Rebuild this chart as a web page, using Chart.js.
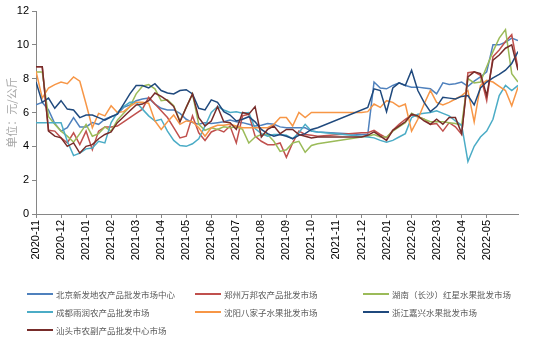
<!DOCTYPE html>
<html>
<head>
<meta charset="utf-8">
<script src="https://cdn.jsdelivr.net/npm/chart.js@4/dist/chart.umd.min.js"></script>
<style>
  body { margin: 0; background: #fff; }
  #wrap { position: relative; width: 537px; height: 344px; }
  #legend { position: absolute; left: 0; top: 0; width: 537px; height: 344px; pointer-events: none;
            font-family: "Noto Sans CJK SC"; font-size: 8.5px; color: #595959; }
  .item { position: absolute; display: flex; align-items: center; white-space: nowrap; height: 12px; }
  .item i { display: inline-block; width: 26px; height: 2px; margin-right: 3px; }
</style>
</head>
<body>
<div id="wrap">
  <canvas id="chart" width="537" height="344"></canvas>
  <div id="legend"></div>
</div>
<script>
// month tick labels (one tick every 4 weekly points)
const monthLabels = ['2020-11', '2020-12', '2021-01', '2021-02', '2021-03', '2021-04', '2021-05',
  '2021-06', '2021-07', '2021-08', '2021-09', '2021-10', '2021-11', '2021-12',
  '2022-01', '2022-02', '2022-03', '2022-04', '2022-05'];

const seriesNames = ['北京新发地农产品批发市场中心', '郑州万邦农产品批发市场', '湖南（长沙）红星水果批发市场',
  '成都雨润农产品批发市场', '沈阳八家子水果批发市场', '浙江嘉兴水果批发市场', '汕头市农副产品批发中心市场'];
const seriesColors = ['#4F81BD', '#C0504D', '#9BBB59', '#4BACC6', '#F79646', '#1F497D', '#772C2A'];

// weekly prices, 元/公斤 (null = no quote that week)
const beijing = [6.45, 6.6, 6.15, 5.35, 4.9, 5.1, 5.7, 5.15, 5.15, 5.4, 5.3, 5.6, 5.75, 5.9, 6.3, 6.45,
  6.7, 6.8, 6.85, 6.5, 6.25, 6.15, 6.15, 5.95, 5.6, 5.4, 5.3, 5.4, 5.35, 5.4, 5.45, 5.55, 5.45, 5.4,
  5.3, 5.2, 5.25, 5.35, 5.3, 5.15, 5.1, 5.1, 5.1, 5.1, 4.9, 4.85, null, null, null, null, null, null,
  4.7, 4.7, 7.8, 7.45, 7.4, 7.6, 7.75, 7.6, 7.5, 7.5, 7.45, 7.4, 7.1, 7.75, 7.65, 7.7, 7.8, 7.55,
  7.85, 8.1, 8.4, 10.0, 10.0, 10.15, 10.4, 10.25];
const zhengzhou = [8.7, 8.7, 4.95, 4.9, 4.5, 4.2, 4.8, 4.1, 4.9, 3.8, 4.9, 5.15, 5.15, 5.2, 5.45, 5.7,
  5.95, 6.2, 6.9, 6.5, 6.1, 5.7, 5.1, 4.5, 4.6, 5.8, 4.8, 4.35, 4.85, 5.0, 4.85, 5.2, 4.2, 5.8, 5.9,
  4.6, 4.3, 4.1, 4.1, 4.2, 3.35, 4.2, 4.9, 4.7, 4.65, 4.6, null, null, null, null, null, null,
  4.8, 4.8, 4.95, 4.7, 4.5, 4.95, 5.3, 5.6, 5.85, 5.75, 5.6, 5.3, 5.35, 4.9, 5.4, 5.15, 4.7, 8.35,
  8.4, 8.2, 6.7, 9.3, 9.7, 10.2, 10.6, 8.6];
const hunan = [8.4, 8.4, 5.75, 5.3, 4.9, 4.6, 4.25, 4.75, 5.3, 4.6, 4.75, 5.15, 4.9, 5.55, 5.95, 6.35,
  7.1, 7.55, 7.65, 7.4, 6.7, 6.75, 6.4, 5.5, 6.3, 7.1, 5.3, 4.95, 5.1, 5.0, 5.15, 5.1, 5.15, 5.0, 4.2,
  4.55, 4.7, 4.7, 4.3, 3.7, 3.8, 4.2, 4.3, 3.65, 4.05, 4.15, null, null, null, null, null, null,
  4.55, 4.6, 4.7, 4.55, 4.55, 4.9, 5.15, 5.4, 5.95, 5.75, 5.6, 5.45, 5.45, 5.45, 5.4, 5.35, 5.25, 8.0,
  7.75, 7.8, 8.7, 9.6, 10.4, 10.9, 8.3, 7.8];
const chengdu = [5.4, 5.4, 5.4, 5.4, 5.4, 4.3, 3.45, 3.6, 3.85, 3.9, 4.3, 4.2, 5.4, 6.0, 6.35, 6.6,
  6.6, 6.2, 5.8, 5.5, 5.6, 4.9, 4.35, 4.05, 4.0, 4.15, 4.45, 5.2, 6.0, 6.35, 6.15, 6.0, 6.05, 5.95, 6.0,
  5.05, 4.75, 4.6, 4.7, 4.7, 4.65, 4.45, 4.8, 5.3, 4.9, 4.85, null, null, null, null, null, null,
  4.6, 4.55, 4.5, 4.35, 4.25, 4.35, 4.55, 4.75, 5.7, 5.9, 5.95, 6.0, 6.1, 5.95, 5.8, 5.5, 5.25, 3.1,
  4.0, 4.55, 4.9, 5.6, 7.0, 7.6, 7.3, 7.6];
const shenyang = [8.45, 6.85, 7.45, 7.65, 7.8, 7.7, 8.1, 7.85, 6.5, 5.1, 5.95, 5.8, 6.4, 6.0, 6.05, 6.35,
  6.6, 6.6, 6.55, 5.5, 5.0, 5.45, 5.85, 5.3, 5.5, 5.45, 5.1, 4.6, 5.1, 5.25, 5.25, 5.3, 5.2, 5.1, 5.1,
  5.1, 5.1, 5.1, 5.3, 5.7, 5.7, 5.2, 6.0, 5.7, 6.0, 6.0, null, null, null, null, null, null,
  6.0, 6.05, 6.5, 6.3, 6.7, 6.6, 6.35, 6.5, 4.9, 5.6, 6.5, 7.3, 6.6, 6.45, 6.6, 6.8, 7.0, 7.3,
  5.45, 7.6, 7.9, 7.8, 7.55, 7.3, 6.4, 7.5];
const zhejiang = [7.8, 6.6, 6.85, 6.25, 6.7, 6.2, 6.15, 5.7, 5.85, 5.85, 5.7, 5.55, 5.75, 5.9, 6.5, 7.1,
  7.6, 7.6, 7.45, 7.7, 7.3, 7.15, 7.1, 7.3, 7.35, 7.1, 6.25, 6.15, 6.75, 6.6, 6.05, 5.85, 5.5, 5.6, 5.75,
  5.45, 5.0, 4.75, 4.6, 4.7, 4.6, 4.45, 4.65, 4.75, 5.0, 5.1, null, null, null, null, null, null,
  null, 6.3, 7.4, 7.3, 6.05, 7.45, 7.75, 7.6, 8.5, 7.3, 6.6, 6.05, 6.35, 6.9, 6.85, 6.8, 6.95, 7.0,
  6.45, 7.45, 7.8, 8.05, 8.25, 8.5, 8.9, 9.6];
const shantou = [8.7, 8.7, 4.9, 4.6, 4.5, 4.0, 4.2, 3.6, 4.0, 4.1, 4.45, 4.7, 4.85, 5.4, 5.75, 6.1,
  6.45, 6.5, 6.7, 7.15, 6.95, 6.7, 6.35, 5.45, 6.3, 7.1, 5.7, 5.2, 5.5, 6.35, 5.45, 5.4, 5.0, 6.0, 5.9,
  6.35, 4.55, 5.0, 5.2, 4.75, 5.0, 5.0, 4.7, 4.6, 4.5, 4.55, null, null, null, null, null, null,
  4.55, 4.65, 4.85, 4.6, 4.35, 4.95, 5.2, 5.45, 5.9, 5.8, 5.5, 5.3, 5.6, 5.3, 5.7, 5.7, 4.75, 8.1,
  8.4, 8.3, 7.0, 9.1, 9.4, 9.8, 10.0, 8.5];

const allSeries = [beijing, zhengzhou, hunan, chengdu, shenyang, zhejiang, shantou];

// x = months since 2020-11, one point per week
const datasets = allSeries.map((vals, i) => ({
  label: seriesNames[i],
  data: vals.map((v, k) => ({ x: k / 4, y: v })),
  borderColor: seriesColors[i],
  backgroundColor: seriesColors[i],
  borderWidth: 1.5,
  pointRadius: 0,
  tension: 0,
  spanGaps: true,
  order: allSeries.length - i   // later series drawn on top, like the source
}));

const axisGrey = '#868686';

new Chart(document.getElementById('chart'), {
  type: 'line',
  data: { datasets: datasets },
  options: {
    responsive: false,
    animation: false,
    devicePixelRatio: 1,
    layout: { padding: { top: 11, right: 19, left: 0, bottom: 0 } },
    plugins: { legend: { display: false }, tooltip: { enabled: false } },
    scales: {
      x: {
        type: 'linear',
        min: 0,
        max: 19.25,
        afterBuildTicks: axis => { axis.ticks = monthLabels.map((_, i) => ({ value: i })); },
        afterFit: axis => { axis.height = 130; },
        ticks: {
          callback: v => monthLabels[v],
          autoSkip: false,
          minRotation: 90,
          maxRotation: 90,
          padding: 2,
          color: '#000',
          font: { size: 11, family: 'Liberation Sans' }
        },
        grid: { drawOnChartArea: false, tickLength: 4, color: axisGrey },
        border: { color: axisGrey }
      },
      y: {
        min: 0,
        max: 12,
        afterFit: axis => { axis.width = 36; },
        ticks: { stepSize: 2, padding: 3, color: '#000', font: { size: 11, family: 'Liberation Sans' } },
        grid: { drawOnChartArea: false, tickLength: 4, color: axisGrey },
        border: { color: axisGrey },
        title: {
          display: true,
          text: '单位：元/公斤',
          color: '#A6A6A6',
          padding: { top: 5, bottom: 0 },
          font: { size: 11, family: 'Noto Sans CJK SC' }
        }
      }
    }
  }
});

// legend in three columns below the chart
const legend = document.getElementById('legend');
const colX = [27, 195, 363];
const rowY = [294, 312, 330];
seriesNames.forEach((name, i) => {
  const div = document.createElement('div');
  div.className = 'item';
  div.style.left = colX[i % 3] + 'px';
  div.style.top = (rowY[Math.floor(i / 3)] - 6) + 'px';
  div.innerHTML = '<i style="background:' + seriesColors[i] + '"></i><span>' + name + '</span>';
  legend.appendChild(div);
});
</script>
</body>
</html>
